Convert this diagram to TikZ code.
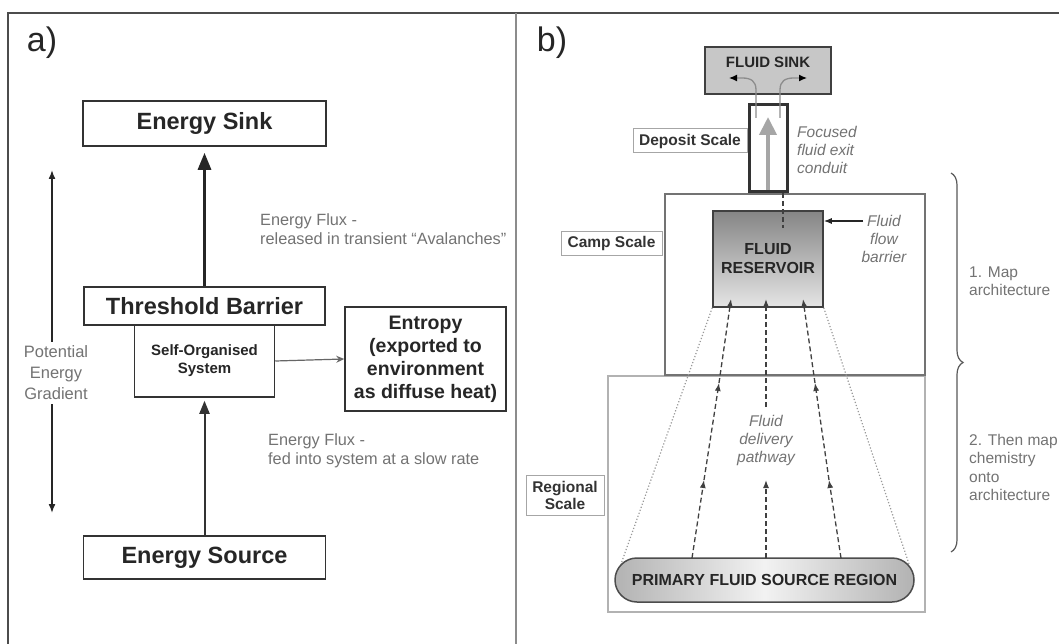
\documentclass[tikz,border=0pt]{standalone}
\usepackage{fontspec}
\setmainfont{Liberation Sans}
\usetikzlibrary{arrows.meta,decorations.pathreplacing}
\begin{document}
\begin{tikzpicture}[x=1pt,y=-1pt,
  bigbox/.style={draw=black!80,line width=1.6pt,fill=white,inner sep=0pt,
    font=\fontsize{23.5}{27}\selectfont\bfseries,text=black!85},
  plainbox/.style={draw=black!80,line width=1.5pt,fill=white,inner sep=0pt,align=center,text=black!85},
  graytext/.style={inner sep=0pt,text=black!55,align=left,font=\fontsize{16.3}{19}\selectfont},
  note/.style={inner sep=0pt,text=black!55,align=center,font=\fontsize{15.5}{18}\selectfont\itshape},
  lbl/.style={draw=black!35,line width=1pt,fill=white,inner sep=0pt,align=center,
    font=\fontsize{15.5}{17}\selectfont\bfseries,text=black!80},
  flow/.style={dash pattern=on 5pt off 3pt,draw=black!75,line width=1.3pt},
  flowarrow/.style={flow,-{Latex[length=8pt,width=6pt]}},
  panel/.style={inner sep=0pt,font=\fontsize{34}{34}\selectfont,text=black!85}]
\useasboundingbox (0,0) rectangle (1059,644);
\fill[white] (0,0) rectangle (1059,644);
% frame
\draw[black!70,line width=2pt] (8,644) -- (8,13) -- (1059,13);
\draw[black!45,line width=1.5pt] (516,13) -- (516,644);

% ---------------- panel a ----------------
\node[panel] (la) at (42,43) {a)};
\node[bigbox,minimum width=243pt,minimum height=45pt] (sink) at (204.5,123.5) {Energy Sink};
\node[plainbox,minimum width=140pt,minimum height=72pt,
  font=\fontsize{15}{18}\selectfont\bfseries] (selforg) at (204.5,361) {Self-Organised\\System};
\node[bigbox,minimum width=241pt,minimum height=38pt] (barrier) at (204.5,306) {Threshold Barrier};
\node[plainbox,minimum width=161pt,minimum height=104pt,
  font=\fontsize{19.5}{23}\selectfont\bfseries] (entropy) at (425.5,359) {Entropy\\(exported to\\environment\\as diffuse heat)};
\node[bigbox,minimum width=242pt,minimum height=43pt] (source) at (204.5,557.5) {Energy Source};

\draw[line width=3pt,black!85,-{Triangle[length=17pt,width=13pt]}] (barrier.north) -- ([yshift=-6pt]sink.south);
\draw[line width=2pt,black!80,-{Triangle[length=13pt,width=10pt]}] (source.north) -- ([yshift=-3pt]selforg.south);
\draw[line width=1.2pt,black!60,-{Stealth[length=8pt,width=7pt,open]}] (selforg.east) -- (entropy.west);

\node[graytext,anchor=west] (flux1) at (260,229.5) {Energy Flux -\\released in transient “Avalanches”};
\node[graytext,anchor=west] (flux2) at (268,451) {Energy Flux -\\fed into system at a slow rate};

\node[inner sep=4pt,align=center,text=black!55,font=\fontsize{16.5}{21}\selectfont] (pot) at (56,373) {Potential\\Energy\\Gradient};
\coordinate (gtop) at (52,170);
\coordinate (gbot) at (52,513);
\draw[line width=1.5pt,black!85,-{Latex[length=9pt,width=7pt]}] (pot.north -| gtop) -- (gtop);
\draw[line width=1.5pt,black!85,-{Latex[length=9pt,width=7pt]}] (pot.south -| gbot) -- (gbot);

% ---------------- panel b ----------------
\node[panel] (lb) at (552,43) {b)};
\node[draw=black!30,line width=1.5pt,minimum width=317pt,minimum height=236pt,inner sep=0pt] (regional) at (766.5,494) {};
\node[draw=black!55,line width=1.5pt,minimum width=260pt,minimum height=181pt,inner sep=0pt] (camp) at (795,284.5) {};

\node[draw=black!75,line width=1.5pt,fill=black!22,minimum width=126pt,minimum height=47pt,inner sep=0pt] (fsink) at (768,70.5) {};
\node[inner sep=0pt,font=\fontsize{15}{17}\selectfont\bfseries,text=black!85] (fsinktxt) at (768,62) {FLUID SINK};
\node[draw=black!80,line width=3pt,fill=white,minimum width=38pt,minimum height=87pt,inner sep=0pt] (conduit) at (768,148.5) {};

\coordinate (sl0) at (756,118);
\coordinate (sl1) at (756,90);
\coordinate (sl2) at (742,78);
\coordinate (sl3) at (729,78);
\coordinate (sr0) at (780,118);
\coordinate (sr1) at (780,90);
\coordinate (sr2) at (794,78);
\coordinate (sr3) at (807,78);
\draw[black!45,line width=1.3pt,-{Latex[length=8pt,width=7pt,color=black]}] (sl0) -- (sl1) .. controls (756,81) and (751,78) .. (sl2) -- (sl3);
\draw[black!45,line width=1.3pt,-{Latex[length=8pt,width=7pt,color=black]}] (sr0) -- (sr1) .. controls (780,81) and (785,78) .. (sr2) -- (sr3);
\coordinate (ga0) at (768,190);
\coordinate (ga1) at (768,117);
\draw[black!35,line width=4pt,-{Triangle[length=18pt,width=17pt]}] (ga0) -- (ga1);

\node[lbl,minimum width=114pt,minimum height=24pt] (deposit) at (690,141) {Deposit Scale};
\node[note,align=left,anchor=west] (focus) at (797,150) {Focused\\fluid exit\\conduit};

\node[lbl,minimum width=101pt,minimum height=23pt] (camplbl) at (611.5,243.5) {Camp Scale};
\node[lbl,minimum width=78pt,minimum height=40pt] (reglbl) at (565,495) {Regional\\Scale};

\node[draw=black!75,line width=1.5pt,top color=black!48,bottom color=black!10,
  minimum width=110pt,minimum height=96pt,inner sep=0pt,align=center,
  font=\fontsize{16}{19}\selectfont\bfseries,text=black!85] (res) at (768,259) {FLUID\\RESERVOIR};

\coordinate (cd0) at (783,193);
\coordinate (cd1) at (783,228);
\draw[flow] (cd0) -- (cd1);

\node[note] (fbar) at (884,239) {Fluid\\flow\\barrier};
\coordinate (fb) at (863,221);
\draw[black!85,line width=1.2pt,-{Latex[length=8pt,width=6pt]}] (fb) -- (fb -| res.east);

\node[draw=black!70,line width=1.5pt,rounded corners=22pt,left color=black!30,right color=black!30,middle color=black!5,
  minimum width=299pt,minimum height=44pt,inner sep=0pt,
  font=\fontsize{16}{18}\selectfont\bfseries,text=black!85] (src) at (764.5,580) {PRIMARY FLUID SOURCE REGION};

\coordinate (dl) at (621,564);
\coordinate (dr) at (909,564);
\draw[black!40,line width=1.2pt,dotted] (res.south west) -- (dl);
\draw[black!40,line width=1.2pt,dotted] (res.south east) -- (dr);

% delivery pathways
\coordinate (L0) at (692,558);
\coordinate (L1) at (704,480);
\coordinate (L2) at (719,383);
\coordinate (L3) at (731,299);
\coordinate (M0) at (766,558);
\coordinate (M1) at (766,480);
\coordinate (M2) at (766,407);
\coordinate (M3) at (766,299);
\coordinate (R0) at (841,558);
\coordinate (R1) at (829,480);
\coordinate (R2) at (815,383);
\coordinate (R3) at (803,299);
\draw[flowarrow] (L0) -- (L1);
\draw[flowarrow] (L1) -- (L2);
\draw[flowarrow] (L2) -- (L3);
\draw[flowarrow] (M0) -- (M1);
\draw[flowarrow] (M2) -- (M3);
\draw[flowarrow] (R0) -- (R1);
\draw[flowarrow] (R1) -- (R2);
\draw[flowarrow] (R2) -- (R3);
\node[note] (pathway) at (766,440) {Fluid\\delivery\\pathway};

% brace and steps
\coordinate (bt) at (951,173);
\coordinate (bb) at (951,552);
\draw[black!65,line width=1.2pt,decorate,decoration={brace,amplitude=12pt}] (bt) -- (bb);
\node[graytext,font=\fontsize{15.5}{18}\selectfont,anchor=west] (map1) at (969,281) {1. Map\\architecture};
\node[graytext,font=\fontsize{15.5}{18.5}\selectfont,anchor=west] (map2) at (969,467.5) {2. Then map\\chemistry\\onto\\architecture};
\end{tikzpicture}
\end{document}
